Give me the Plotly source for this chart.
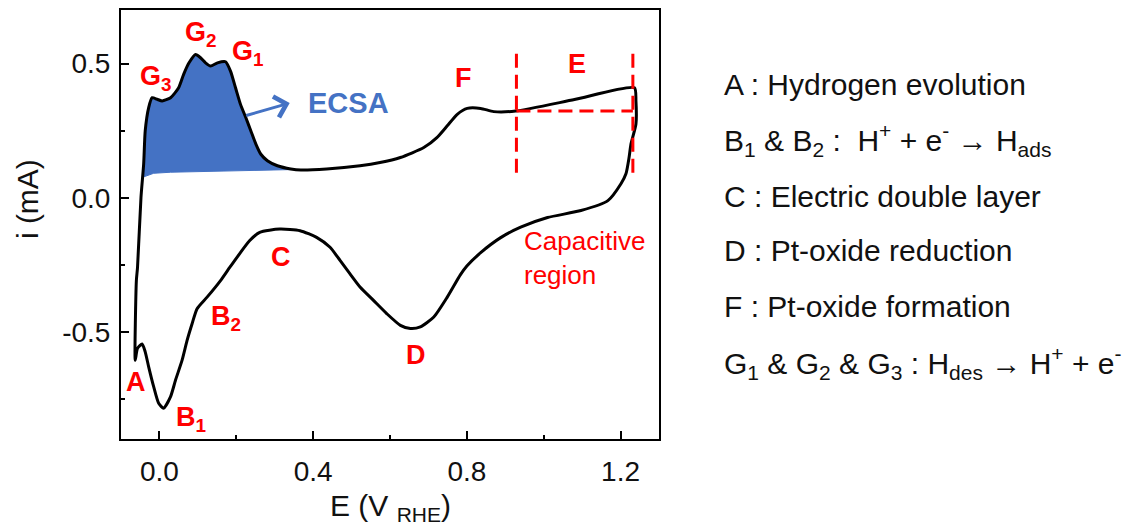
import plotly.graph_objects as go
import numpy as np

# Cyclic voltammogram of Pt: anodic (forward) sweep, lowest -> highest potential
anodic_E = [-0.063, -0.060, -0.057, -0.048, -0.041, -0.037, -0.028, -0.019, -0.006, 0.007,
            0.029, 0.050, 0.063, 0.077, 0.094, 0.107, 0.120, 0.133, 0.151, 0.172,
            0.185, 0.198, 0.211, 0.225, 0.238, 0.251, 0.264, 0.281, 0.307, 0.342,
            0.368, 0.435, 0.522, 0.574, 0.627, 0.688, 0.722, 0.749, 0.775, 0.801,
            0.836, 0.870, 0.927, 1.080, 1.236]
anodic_i = [-0.606, -0.309, -0.260, 0.001, 0.126, 0.249, 0.336, 0.373, 0.367, 0.361,
            0.373, 0.410, 0.460, 0.503, 0.534, 0.522, 0.503, 0.491, 0.503, 0.507,
            0.472, 0.410, 0.348, 0.298, 0.249, 0.200, 0.162, 0.138, 0.119, 0.107,
            0.103, 0.107, 0.119, 0.131, 0.150, 0.187, 0.224, 0.268, 0.311, 0.333,
            0.333, 0.321, 0.323, 0.366, 0.410]

# Cathodic (reverse) sweep, highest -> lowest potential
cathodic_E = [1.240, 1.240, 1.227, 1.222, 1.214, 1.201, 1.167, 1.097, 1.010, 0.940,
              0.888, 0.836, 0.800, 0.783, 0.749, 0.714, 0.679, 0.653, 0.627, 0.592,
              0.557, 0.522, 0.496, 0.470, 0.444, 0.409, 0.366, 0.313, 0.261, 0.235,
              0.183, 0.159, 0.124, 0.098, 0.085, 0.072, 0.059, 0.042, 0.029, 0.011,
              -0.002, -0.015, -0.028, -0.037, -0.045, -0.057, -0.063]
cathodic_i = [0.360, 0.275, 0.200, 0.149, 0.089, 0.052, -0.011, -0.048, -0.074, -0.110,
              -0.149, -0.205, -0.255, -0.288, -0.371, -0.445, -0.482, -0.488, -0.476, -0.433,
              -0.383, -0.333, -0.284, -0.234, -0.185, -0.148, -0.123, -0.117, -0.129, -0.160,
              -0.260, -0.309, -0.371, -0.414, -0.470, -0.532, -0.606, -0.680, -0.742, -0.785,
              -0.767, -0.705, -0.631, -0.575, -0.546, -0.562, -0.606]

# Baseline under the hydrogen-desorption peaks (ECSA integration)
ecsa_base_E = [-0.044, -0.037, -0.015, 0.029, 0.159, 0.350]
ecsa_base_i = [0.076, 0.080, 0.091, 0.095, 0.099, 0.105]

# Capacitive window (E) and reference current level
cap_E = [0.929, 1.232]
cap_i_level = 0.323
cap_i_span = [0.093, 0.539]

# Peak labels: text, E, i
peak_labels = [
    ("G<sub>3</sub>", -0.008, 0.445),
    ("G<sub>2</sub>", 0.108, 0.612),
    ("G<sub>1</sub>", 0.230, 0.540),
    ("C", 0.316, -0.223),
    ("F", 0.792, 0.446),
    ("E", 1.086, 0.498),
    ("A", -0.060, -0.688),
    ("B<sub>1</sub>", 0.082, -0.825),
    ("B<sub>2</sub>", 0.174, -0.447),
    ("D", 0.668, -0.587),
]

legend_lines = [
    "A : Hydrogen evolution",
    "B<sub>1</sub> & B<sub>2</sub> :  H<sup>+</sup> + e<sup>-</sup> \u2192 H<sub>ads</sub>",
    "C : Electric double layer",
    "D : Pt-oxide reduction",
    "F : Pt-oxide formation",
    "G<sub>1</sub> & G<sub>2</sub> & G<sub>3</sub> : H<sub>des</sub> \u2192 H<sup>+</sup> + e<sup>-</sup>",
]
legend_y_px = [83, 139, 195, 250, 306, 363]

FONT = "Liberation Sans, Arial, sans-serif"
BLUE = "#4472C4"
RED = "#FF0000"
INK = "#111111"

aE = np.array(anodic_E)
ai = np.array(anodic_i)
mask = (aE > -0.045) & (aE < 0.35)
fill_E = list(ecsa_base_E) + list(aE[mask][::-1]) + [ecsa_base_E[0]]
fill_i = list(ecsa_base_i) + list(ai[mask][::-1]) + [ecsa_base_i[0]]

fig = go.Figure()

fig.add_trace(go.Scatter(
    x=fill_E, y=fill_i, mode="lines", fill="toself",
    fillcolor=BLUE, line=dict(color=BLUE, width=1), hoverinfo="skip",
))

fig.add_trace(go.Scatter(
    x=anodic_E + cathodic_E, y=anodic_i + cathodic_i, mode="lines",
    line=dict(color="black", width=3, shape="spline", smoothing=0.6),
))

# Dashed capacitive-region markers
dash = "14px,7px"
for e in cap_E:
    fig.add_shape(type="line", x0=e, x1=e, y0=cap_i_span[0], y1=cap_i_span[1],
                  line=dict(color=RED, width=3, dash=dash))
fig.add_shape(type="line", x0=cap_E[0], x1=cap_E[1], y0=cap_i_level, y1=cap_i_level,
              line=dict(color=RED, width=3, dash=dash))

for text, e, i in peak_labels:
    fig.add_annotation(x=e, y=i, text=f"<b>{text}</b>", showarrow=False,
                       font=dict(family=FONT, size=27, color=RED))

# ECSA arrow and label
fig.add_annotation(x=0.339, y=0.353, ax=0.222, ay=0.305, xref="x", yref="y",
                   axref="x", ayref="y", text="", showarrow=True,
                   arrowhead=4, arrowsize=1.4, arrowwidth=3, arrowcolor=BLUE)
fig.add_annotation(x=0.491, y=0.352, text="<b>ECSA</b>", showarrow=False,
                   font=dict(family=FONT, size=29, color=BLUE))

fig.add_annotation(x=0.943, y=-0.225, text="Capacitive<br>region", showarrow=False,
                   xanchor="left", yanchor="middle", align="left",
                   font=dict(family=FONT, size=26, color=RED))

# Plot-area geometry in pixels for paper-coordinate placement
L, T, W, H = 121, 8, 538, 431

for line, ypx in zip(legend_lines, legend_y_px):
    fig.add_annotation(xref="paper", yref="paper", x=(722 - L) / W, y=(T + H - ypx) / H,
                       text=line, showarrow=False, xanchor="left", yanchor="middle",
                       font=dict(family=FONT, size=30, color=INK))

fig.add_annotation(xref="paper", yref="paper", x=(27 - L) / W, y=(T + H - 198) / H,
                   text="i (mA)", textangle=-90, showarrow=False,
                   xanchor="center", yanchor="middle",
                   font=dict(family=FONT, size=30, color=INK))
fig.add_annotation(xref="paper", yref="paper", x=0.5, y=(T + H - 508) / H,
                   text="E (V <sub>RHE</sub>)", showarrow=False,
                   xanchor="center", yanchor="middle",
                   font=dict(family=FONT, size=30, color=INK))

axis_common = dict(
    showline=True, linecolor="black", linewidth=2, mirror=True,
    ticks="inside", ticklen=8, tickwidth=2, tickcolor="black",
    showgrid=False, zeroline=False,
    tickfont=dict(family=FONT, size=28, color=INK),
)
fig.update_xaxes(range=[-0.1, 1.3], tickvals=[0.0, 0.4, 0.8, 1.2],
                 ticktext=["0.0", "0.4", "0.8", "1.2"],
                 minor=dict(tickvals=[0.2, 0.6, 1.0], ticks="inside", ticklen=4,
                            tickwidth=2, tickcolor="black"),
                 ticklabelstandoff=6, **axis_common)
fig.update_yaxes(range=[-0.9, 0.7], tickvals=[-0.5, 0.0, 0.5],
                 ticktext=["-0.5", "0.0", "0.5"],
                 minor=dict(tickvals=[-0.75, -0.25, 0.25], ticks="inside", ticklen=4,
                            tickwidth=2, tickcolor="black"),
                 ticklabelstandoff=3, **axis_common)

fig.update_layout(
    width=1129, height=529, showlegend=False,
    margin=dict(l=L, r=1129 - L - W, t=T, b=529 - T - H),
    paper_bgcolor="white", plot_bgcolor="white",
)

fig.write_html("out.html")
